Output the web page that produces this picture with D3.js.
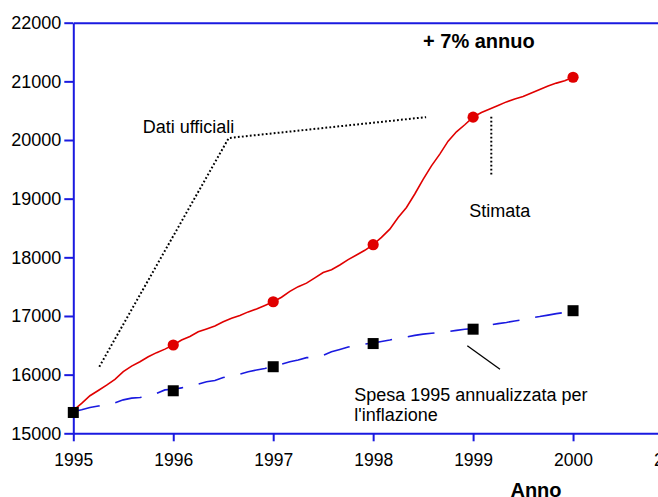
<!DOCTYPE html>
<html>
<head>
<meta charset="utf-8">
<script src="https://cdn.jsdelivr.net/npm/d3@7"></script>
<style>
  body { margin: 0; background: #fff; }
  svg { display: block; font-family: "Liberation Sans", Arial, sans-serif; }
</style>
</head>
<body>
<svg id="chart" width="658" height="497"></svg>
<script>
// monthly values, Jan 1995 .. Jan 2000
const months = d3.range(0, 61).map(i => 1995 + i / 12);

const spesaUfficiale = [
  15390, 15510, 15640, 15730, 15820, 15920, 16050, 16145, 16220, 16305, 16375, 16435,
  16505, 16590, 16650, 16730, 16780, 16830, 16900, 16960, 17010, 17070, 17120, 17180,
  17243, 17320, 17420, 17500, 17560, 17650, 17740, 17790, 17870, 17960, 18040, 18120,
  18215, 18340, 18480, 18680, 18850, 19080, 19330, 19560, 19760, 19980, 20140, 20260,
  20390, 20470, 20530, 20590, 20650, 20700, 20740, 20800, 20860, 20920, 20970, 21010,
  21070
];

const spesaInflazione = [
  15370, 15400, 15440, 15465, 15480, 15520, 15570, 15600, 15610, 15630, 15680, 15740,
  15750, 15775, 15800, 15840, 15880, 15900, 15950, 15980, 16010, 16050, 16080, 16105,
  16140, 16180, 16220, 16250, 16290, 16290, 16330, 16390, 16430, 16470, 16500, 16520,
  16540, 16565, 16590, 16620, 16640, 16670, 16690, 16705, 16720, 16735, 16755, 16775,
  16785, 16815, 16845, 16870, 16890, 16915, 16935, 16970, 16990, 17015, 17040, 17060,
  17090
];

// yearly markers (the 1995 red point is hidden under the square)
const anniUfficiali = [1996, 1997, 1998, 1999, 2000];
const puntiUfficiali = [16505, 17243, 18215, 20390, 21070];
const anniInflazione = [1995, 1996, 1997, 1998, 1999, 2000];
const puntiInflazione = [15355, 15725, 16135, 16530, 16775, 17090];

const xTicks = [1995, 1996, 1997, 1998, 1999, 2000, 2001];
const yTicks = [15000, 16000, 17000, 18000, 19000, 20000, 21000, 22000];

const svg = d3.select("#chart");
const blue = "#1a1ae0";
const red = "#e00000";

const x = d3.scaleLinear().domain([1995, 2001]).range([73.3, 673]);
const y = d3.scaleLinear().domain([15000, 22000]).range([433.3, 22.7]);

// top frame line
svg.append("g")
  .attr("transform", "translate(0," + y(22000) + ")")
  .call(d3.axisTop(x).tickValues([]).tickSizeOuter(0))
  .call(g => g.select(".domain").attr("stroke", blue).attr("stroke-width", 2));

const yAxis = svg.append("g")
  .attr("transform", "translate(" + x(1995) + ",0)")
  .call(d3.axisLeft(y).tickValues(yTicks).tickFormat(d3.format("d")).tickSize(9).tickPadding(3).tickSizeOuter(0));
yAxis.select(".domain").attr("stroke", blue).attr("stroke-width", 2);
yAxis.selectAll(".tick line").attr("stroke", blue).attr("stroke-width", 2);
yAxis.selectAll(".tick text").attr("fill", "#000").style("font-size", "18px")
  .style("font-family", "Liberation Sans, Arial, sans-serif");

const xAxis = svg.append("g")
  .attr("transform", "translate(0," + y(15000) + ")")
  .call(d3.axisBottom(x).tickValues(xTicks).tickFormat(d3.format("d")).tickSize(8).tickPadding(12).tickSizeOuter(0));
xAxis.select(".domain").attr("stroke", blue).attr("stroke-width", 2);
xAxis.selectAll(".tick line").attr("stroke", blue).attr("stroke-width", 2);
xAxis.selectAll(".tick text").attr("fill", "#000").style("font-size", "17.5px")
  .style("font-family", "Liberation Sans, Arial, sans-serif");

// axis title, cut at the bottom edge as in the original
svg.append("text")
  .attr("x", 536).attr("y", 497)
  .attr("text-anchor", "middle")
  .style("font-size", "20px").style("font-weight", "bold")
  .text("Anno");

// lines
const line = d3.line().x((d, i) => x(months[i])).y(d => y(d));

svg.append("path")
  .datum(spesaInflazione)
  .attr("fill", "none")
  .attr("stroke", blue)
  .attr("stroke-width", 1.6)
  .attr("stroke-dasharray", "27,16")
  .attr("d", line);

svg.append("path")
  .datum(spesaUfficiale)
  .attr("fill", "none")
  .attr("stroke", red)
  .attr("stroke-width", 1.6)
  .attr("d", line);

svg.selectAll(".pt")
  .data(puntiUfficiali)
  .enter().append("circle")
  .attr("class", "pt")
  .attr("cx", (d, i) => x(anniUfficiali[i]))
  .attr("cy", d => y(d))
  .attr("r", 5.6)
  .attr("fill", red);

svg.selectAll(".sq")
  .data(puntiInflazione)
  .enter().append("rect")
  .attr("class", "sq")
  .attr("x", (d, i) => x(anniInflazione[i]) - 5.5)
  .attr("y", d => y(d) - 5.5)
  .attr("width", 11)
  .attr("height", 11)
  .attr("fill", "#000");

// annotations (data units)
const leaderUfficiali = [[1995.26, 16135], [1996.555, 20034], [1998.53, 20390]];
const leaderStimata = [[1999.182, 20397], [1999.182, 19386]];
const leaderSpesa = [[1998.942, 16493], [1999.269, 16091]];

const pl = d3.line().x(d => x(d[0])).y(d => y(d[1]));

svg.append("path").datum(leaderUfficiali)
  .attr("fill", "none").attr("stroke", "#000").attr("stroke-width", 2)
  .attr("stroke-dasharray", "1.8,2.2").attr("d", pl);
svg.append("path").datum(leaderStimata)
  .attr("fill", "none").attr("stroke", "#000").attr("stroke-width", 2)
  .attr("stroke-dasharray", "1.8,2.2").attr("d", pl);
svg.append("path").datum(leaderSpesa)
  .attr("fill", "none").attr("stroke", "#000").attr("stroke-width", 1.3)
  .attr("d", pl);

const labels = [
  {t: "Dati ufficiali", x: 1995.694, y: 20124, size: 18, bold: false},
  {t: "Stimata", x: 1998.962, y: 18682, size: 18, bold: false},
  {t: "+ 7% annuo", x: 1998.499, y: 21570, size: 20, bold: true},
  {t: "Spesa 1995 annualizzata per", x: 1997.811, y: 15556, size: 18, bold: false},
  {t: "l'inflazione", x: 1997.811, y: 15215, size: 18, bold: false}
];

svg.selectAll(".lab")
  .data(labels)
  .enter().append("text")
  .attr("class", "lab")
  .attr("x", d => x(d.x))
  .attr("y", d => y(d.y))
  .style("font-size", d => d.size + "px")
  .style("font-weight", d => d.bold ? "bold" : "normal")
  .attr("fill", "#000")
  .text(d => d.t);
</script>
</body>
</html>
